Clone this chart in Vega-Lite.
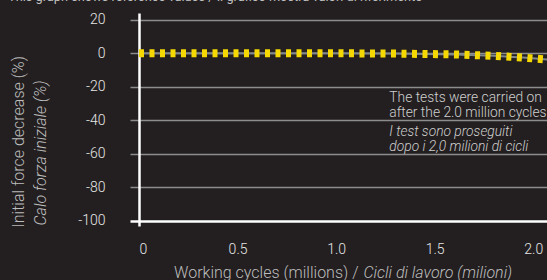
{
  "$schema": "https://vega.github.io/schema/vega-lite/v6.json",
  "autosize": {"type": "none"},
  "width": 408,
  "height": 213,
  "padding": {"left": 139, "top": 13, "right": 0, "bottom": 54},
  "background": "#231f20",
  "config": {"view": {"stroke": null}, "font": "Roboto"},
  "title": {
    "text": "This graph shows reference values / Il grafico mostra valori di riferimento",
    "anchor": "start",
    "frame": "group",
    "dx": -131,
    "offset": 9,
    "fontSize": 12.8,
    "fontWeight": "normal",
    "color": "#bfbfbf",
    "font": "Roboto"
  },
  "datasets": {
    "curve": [
      {"cycles": 0, "decrease": 0},
      {"cycles": 0.5, "decrease": 0},
      {"cycles": 1.0, "decrease": 0},
      {"cycles": 1.3, "decrease": -0.2},
      {"cycles": 1.6, "decrease": -0.7},
      {"cycles": 1.8, "decrease": -1.5},
      {"cycles": 1.95, "decrease": -2.6},
      {"cycles": 2.07, "decrease": -3.8}
    ],
    "notes": [
      {"cycles": 1.27, "decrease": -29.1, "lang": "en", "label": "The tests were carried on"},
      {"cycles": 1.27, "decrease": -38.0, "lang": "en", "label": "after the 2.0 million cycles"},
      {"cycles": 1.27, "decrease": -49.3, "lang": "it", "label": "I test sono proseguiti"},
      {"cycles": 1.27, "decrease": -58.3, "lang": "it", "label": "dopo i 2,0 milioni di cicli"}
    ]
  },
  "layer": [
    {
      "data": {"name": "curve"},
      "mark": {"type": "line", "color": "#7f878c", "strokeWidth": 2},
      "encoding": {
        "x": {
          "field": "cycles", "type": "quantitative",
          "scale": {"domain": [0, 2.07], "nice": false, "zero": false},
          "axis": {
            "orient": "bottom",
            "values": [0, 0.5, 1, 1.5, 2],
            "labelExpr": "datum.value === 0 ? '0' : format(datum.value, '.1f')",
            "grid": false, "domain": false, "ticks": false,
            "labelPadding": 16, "labelFontSize": 14, "labelColor": "#e6e6e6", "labelFont": "Roboto",
            "labelFontWeight": 300,
            "title": "Working cycles (millions) /",
            "titleX": 219, "titleY": 51, "titleAlign": "right", "titleBaseline": "alphabetic",
            "titleFontSize": 16, "titleFontWeight": 300, "titleColor": "#bdbdbd", "titleFont": "Roboto"
          }
        },
        "y": {
          "field": "decrease", "type": "quantitative",
          "scale": {"domain": [-103, 24], "nice": false, "zero": false},
          "axis": {
            "orient": "left",
            "values": [20, 0, -20, -40, -60, -80, -100],
            "labelExpr": "'' + datum.value",
            "grid": true,
            "gridColor": {"condition": {"test": "datum.value === -100", "value": "#ffffff"}, "value": "#8c8c8c"},
            "gridWidth": {"condition": {"test": "datum.value === -100", "value": 2.5}, "value": 1.5},
            "tickColor": {"condition": {"test": "datum.value === -100", "value": "#ffffff"}, "value": "#8c8c8c"},
            "tickWidth": {"condition": {"test": "datum.value === -100", "value": 2.5}, "value": 1.5},
            "tickSize": 9,
            "domainColor": "#ffffff", "domainWidth": 2.5,
            "labelPadding": 25, "labelFontSize": 14, "labelColor": "#e6e6e6", "labelFont": "Roboto",
            "labelFontWeight": 300,
            "title": "Calo forza iniziale (%)",
            "titleFontStyle": "italic", "titleFontWeight": 300, "titleFontSize": 16,
            "titleColor": "#bdbdbd", "titleFont": "Roboto",
            "titleAngle": -90, "titleX": -99, "titleY": 212, "titleAlign": "left", "titleBaseline": "middle"
          }
        }
      }
    },
    {
      "data": {"name": "curve"},
      "mark": {"type": "line", "color": "#f5d800", "strokeWidth": 8, "strokeDash": [5, 5.5], "strokeCap": "butt"},
      "encoding": {
        "x": {"field": "cycles", "type": "quantitative", "scale": {"domain": [0, 2.07], "nice": false, "zero": false}, "axis": null},
        "y": {"field": "decrease", "type": "quantitative", "scale": {"domain": [-103, 24], "nice": false, "zero": false}, "axis": null}
      }
    },
    {
      "data": {"name": "notes"},
      "transform": [{"filter": "datum.lang === 'en'"}],
      "mark": {"type": "text", "align": "left", "baseline": "alphabetic", "fontSize": 13.8, "color": "#cfcfcf", "font": "Roboto", "fontWeight": 300},
      "encoding": {
        "x": {
          "field": "cycles", "type": "quantitative",
          "scale": {"domain": [0, 2.07], "nice": false, "zero": false},
          "axis": {
            "orient": "bottom", "labels": false, "ticks": false, "domain": false, "grid": false,
            "title": "Cicli di lavoro (milioni)",
            "titleX": 224, "titleY": 51, "titleAlign": "left", "titleBaseline": "alphabetic",
            "titleFontSize": 16, "titleFontWeight": 300, "titleFontStyle": "italic", "titleColor": "#bdbdbd", "titleFont": "Roboto"
          }
        },
        "y": {
          "field": "decrease", "type": "quantitative",
          "scale": {"domain": [-103, 24], "nice": false, "zero": false},
          "axis": {
            "orient": "left", "labels": false, "ticks": false, "domain": false, "grid": false,
            "title": "Initial force decrease (%)",
            "titleFontWeight": 300, "titleFontSize": 16, "titleColor": "#bdbdbd", "titleFont": "Roboto",
            "titleAngle": -90, "titleX": -121, "titleY": 214, "titleAlign": "left", "titleBaseline": "middle"
          }
        },
        "text": {"field": "label"}
      }
    },
    {
      "data": {"name": "notes"},
      "transform": [{"filter": "datum.lang === 'it'"}],
      "mark": {"type": "text", "align": "left", "baseline": "alphabetic", "fontSize": 13.8, "fontStyle": "italic", "color": "#cfcfcf", "font": "Roboto", "fontWeight": 300},
      "encoding": {
        "x": {"field": "cycles", "type": "quantitative", "scale": {"domain": [0, 2.07], "nice": false, "zero": false}, "axis": null},
        "y": {"field": "decrease", "type": "quantitative", "scale": {"domain": [-103, 24], "nice": false, "zero": false}, "axis": null},
        "text": {"field": "label"}
      }
    }
  ],
  "resolve": {"axis": {"x": "independent", "y": "independent"}}
}
